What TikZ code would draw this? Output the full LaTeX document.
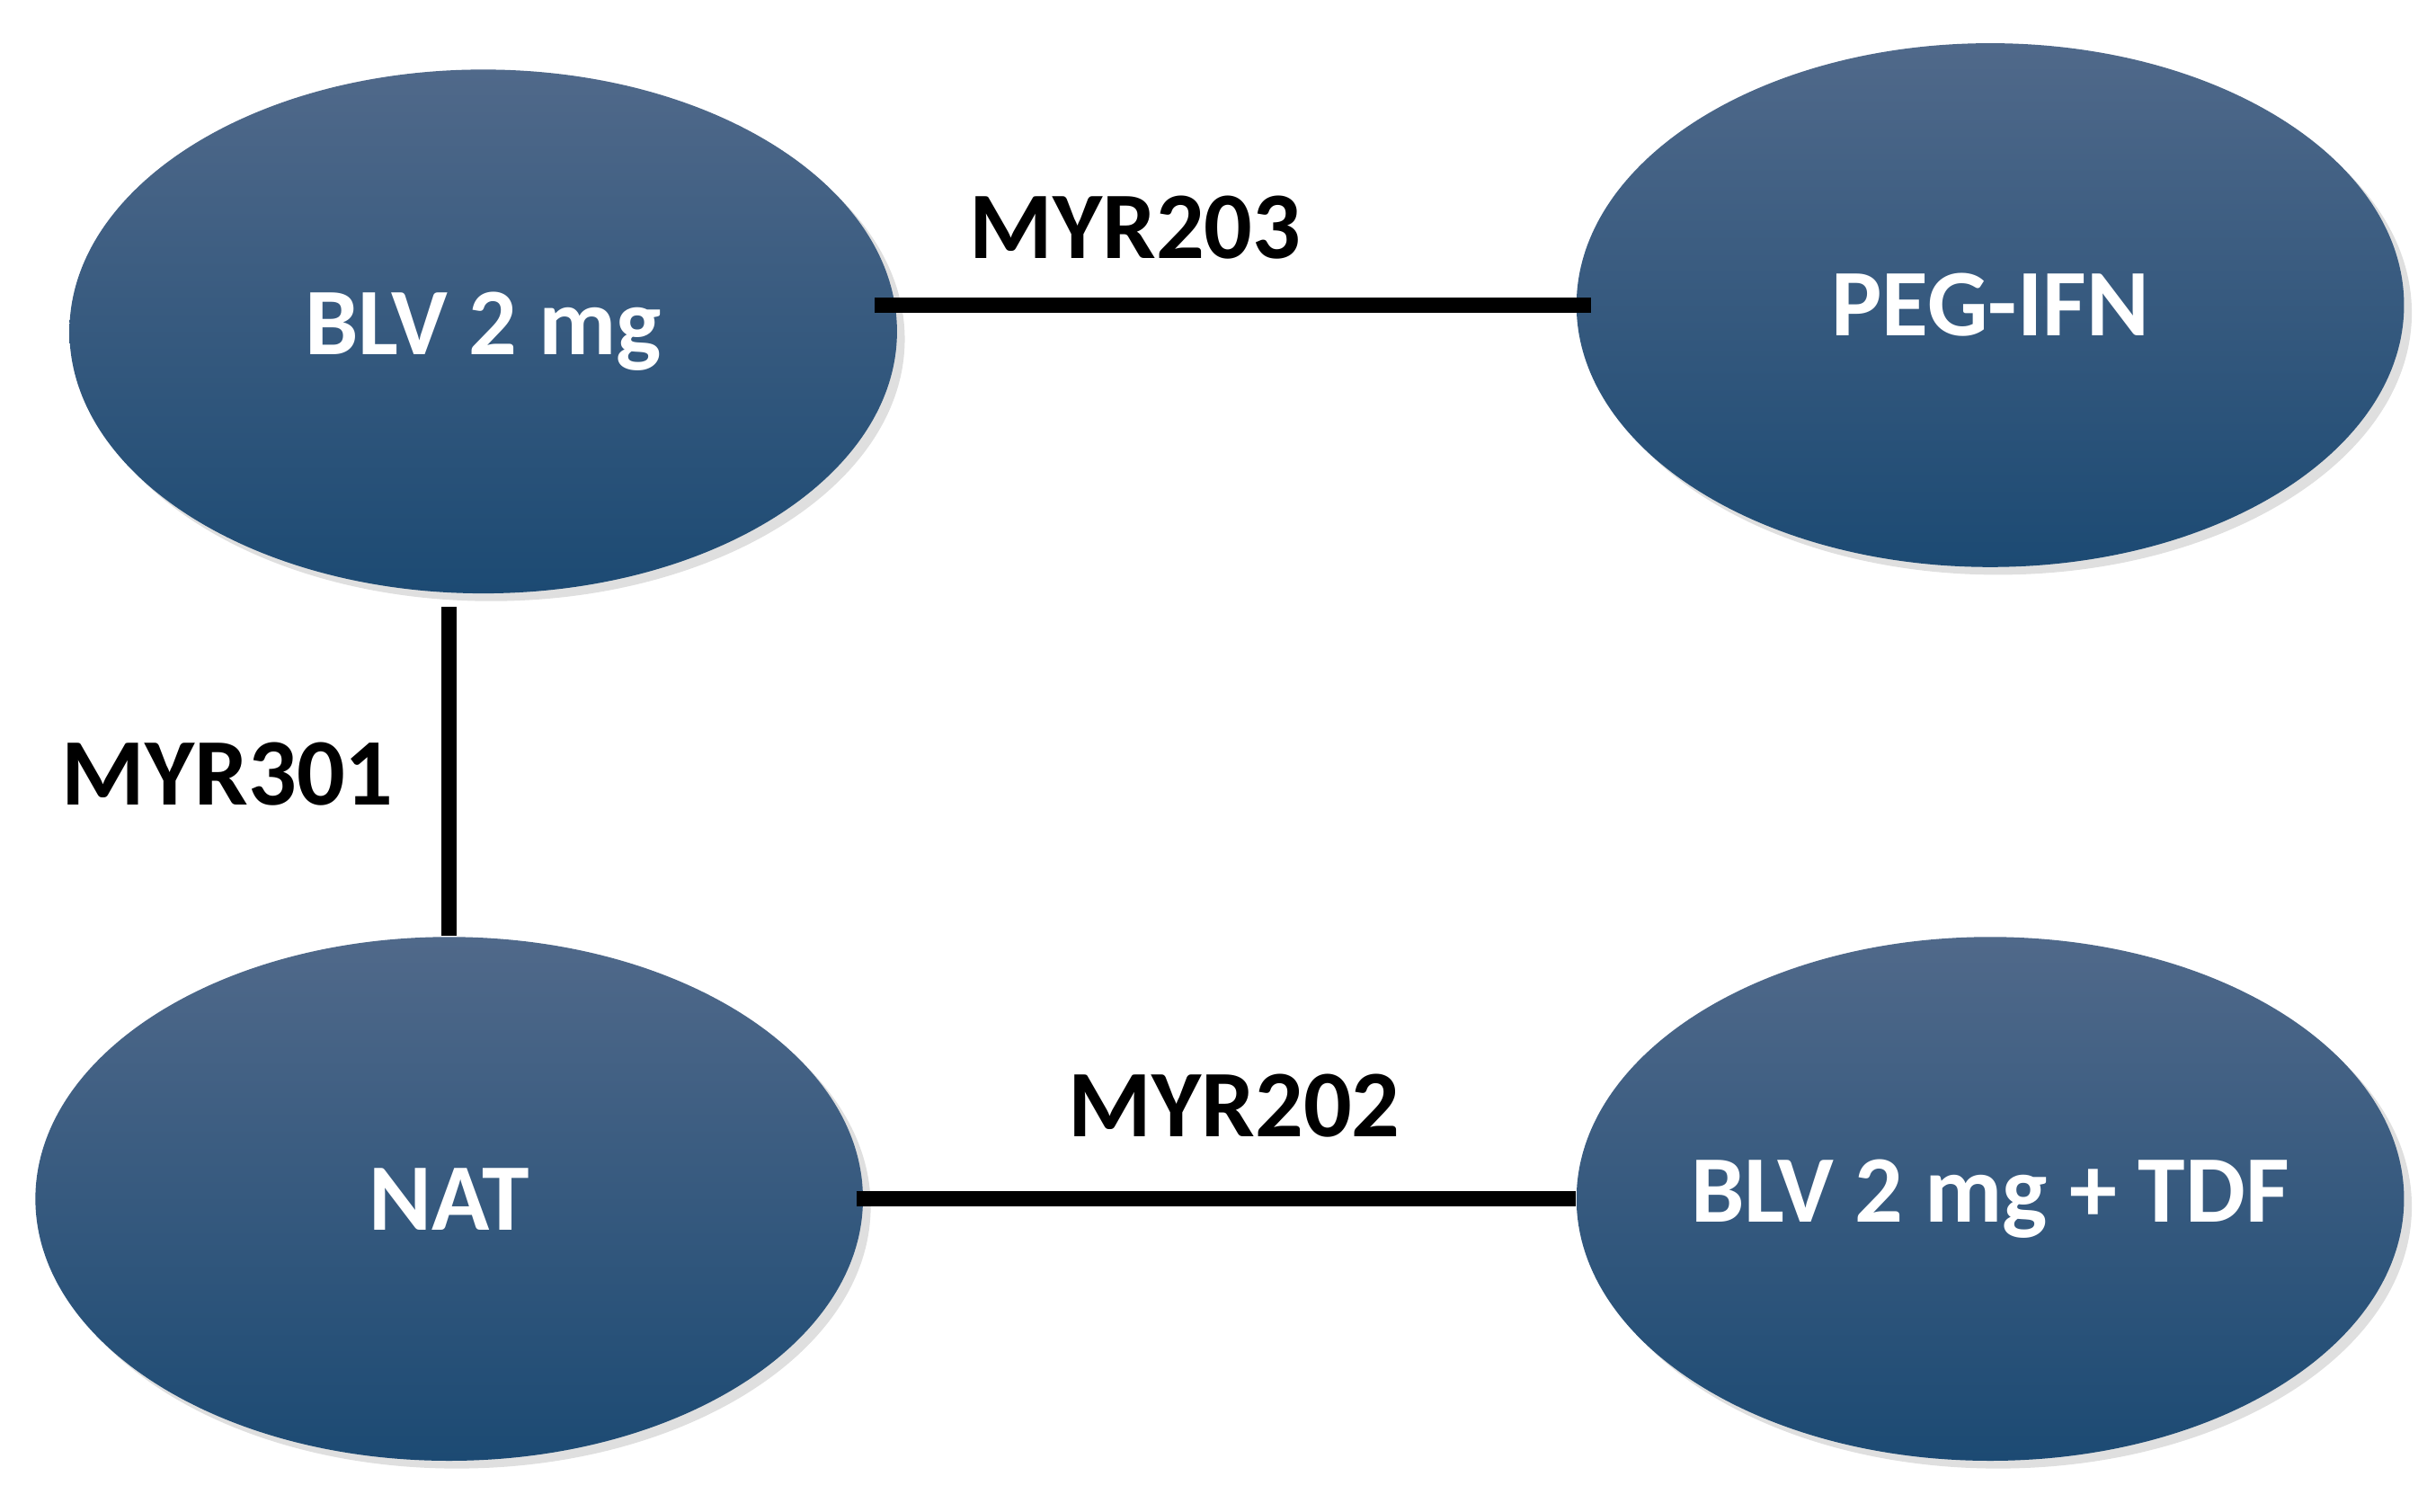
\documentclass[tikz,border=0pt]{standalone}
\usepackage{fontspec}
\setmainfont{Carlito}
\usetikzlibrary{shapes.geometric,shadows}
\definecolor{topc}{HTML}{50698A}
\definecolor{botc}{HTML}{1C4A73}
\begin{document}
\begin{tikzpicture}[x=0.01cm,y=-0.01cm,
  ell/.style={ellipse,minimum width=5.34cm,minimum height=3.38cm,inner sep=0pt,
    top color=topc,bottom color=botc,draw=none,
    drop shadow={opacity=0.25,shadow xshift=0.05cm,shadow yshift=-0.05cm},
    label={[text=white,font=\bfseries\fontsize{17.5}{20}\selectfont]center:#1}},
  lab/.style={font=\bfseries\fontsize{17.5}{20}\selectfont,text=black},
  con/.style={line width=2.9pt,black}]
\useasboundingbox (0,0) rectangle (1567,976);
\node[ell={BLV 2 mg}] (blv) at (312,214) {};
\node[ell={PEG-IFN}] (peg) at (1285,197) {};
\node[ell={NAT}] (nat) at (290,774) {};
\node[ell={BLV 2 mg + TDF}] (tdf) at (1285,774) {};
\draw[con] ([xshift=-0.15cm]blv.east|-peg.west) -- ([xshift=0.1cm]peg.west);
\draw[con] (nat.north) -- ([yshift=-0.08cm]nat.north|-blv.south);
\draw[con] ([xshift=-0.05cm]nat.east) -- (tdf.west);
\node[lab] (l203) at (733,147) {MYR203};
\node[lab] (l301) at (147,500) {MYR301};
\node[lab] (l202) at (797,714) {MYR202};
\end{tikzpicture}
\end{document}
